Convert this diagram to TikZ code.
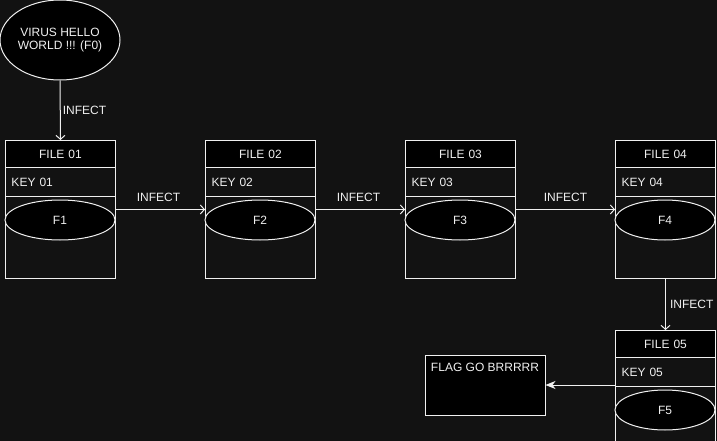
\documentclass[tikz,border=0pt]{standalone}
\usepackage{fontspec}
\setmainfont{Liberation Sans}
\usetikzlibrary{arrows.meta,shapes.geometric}
\definecolor{bg}{HTML}{121212}
\definecolor{fg}{HTML}{F0F0F0}
\newcommand\fileunit[4]{%
  % #1 index, #2 left x, #3 top y, #4 width
  \node[filebox, minimum width=#4pt] (file#1) at (#2,#3) {};
  \node[headbox, minimum width=#4pt, text width=#4pt] (head#1) at (#2,#3) {FILE 0#1};
  \node[keybox, minimum width=#4pt, text width=#4pt-12pt] (key#1) at (#2,#3+27) {KEY 0#1};
  \node[fell, minimum width=#4pt] (f#1) at (#2+#4/2,#3+80) {F#1};
}
\begin{document}
\begin{tikzpicture}[x=1pt,y=-1pt,
  every node/.style={font=\fontsize{12}{14}\selectfont, text=fg},
  filebox/.style={draw=fg, line width=1pt, minimum height=138pt, inner sep=0pt, anchor=north west},
  headbox/.style={draw=fg, fill=black, line width=1pt, minimum height=27pt, inner sep=0pt, anchor=north west, align=center},
  keybox/.style={draw=fg, line width=1pt, minimum height=29pt, inner sep=0pt, anchor=north west, align=left},
  fell/.style={ellipse, draw=fg, fill=black, line width=1pt, minimum height=40pt, inner sep=0pt},
  infect/.style={draw=fg, line width=1pt, -{Straight Barb[length=4pt,width=9pt,line width=1pt]}},
  flagarrow/.style={draw=fg, line width=1pt, -{Stealth[length=10pt,width=8pt,inset=3pt]}},
  lbl/.style={inner sep=0pt, text=fg}
]
\fill[bg] (0,0) rectangle (717,441);
\useasboundingbox (0,0) rectangle (717,441);
\clip (0,0) rectangle (717,441);

\node[ellipse, draw=fg, fill=black, line width=1pt, minimum width=120pt, minimum height=80pt, inner sep=0pt, align=center] (virus) at (60,40) {VIRUS HELLO\\[-1pt]WORLD !!! (F0)};

\fileunit{1}{5}{140}{110}
\fileunit{2}{205}{140}{110}
\fileunit{3}{405}{140}{110}
\fileunit{4}{615}{140}{100}
\fileunit{5}{615}{330}{100}

\node[draw=fg, fill=black, line width=1pt, minimum width=120pt, minimum height=60pt, inner sep=0pt] (flag) at (485,385) {};
\node[lbl, anchor=north] (flagtext) at (flag.north) [yshift=-8pt] {FLAG GO BRRRRR};

\draw[infect] (virus.south) -- node[lbl, right, xshift=2pt] (l0) {INFECT} (file1.north);
\draw[infect] (file1.east) -- node[lbl, above, yshift=7pt, xshift=-2pt] (l1) {INFECT} (file2.west);
\draw[infect] (file2.east) -- node[lbl, above, yshift=7pt, xshift=-2pt] (l2) {INFECT} (file3.west);
\draw[infect] (file3.east) -- node[lbl, above, yshift=7pt] (l3) {INFECT} (file4.west);
\draw[infect] (file4.south) -- node[lbl, right, xshift=4pt] (l4) {INFECT} (file5.north);
\draw[flagarrow] (flag.east -| file5.west) -- (flag.east);
\end{tikzpicture}
\end{document}
